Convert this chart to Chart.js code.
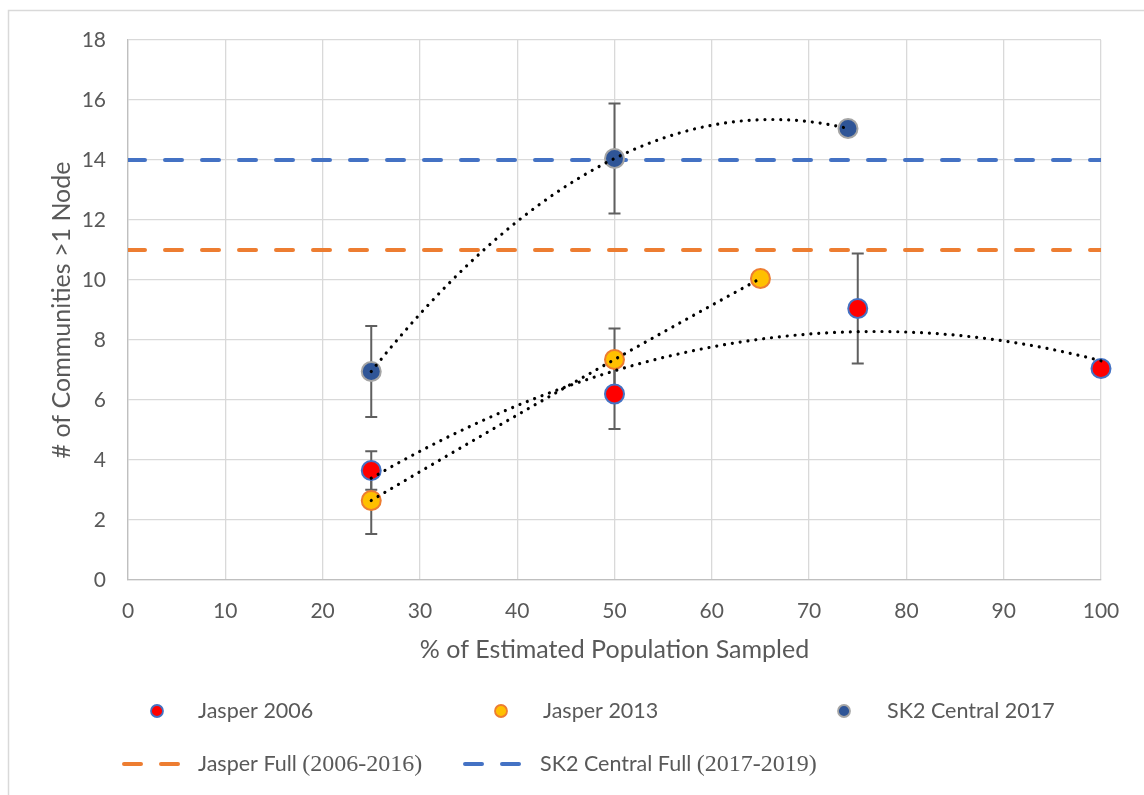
<!DOCTYPE html>
<html>
<head>
<meta charset="utf-8">
<script src="https://cdn.jsdelivr.net/npm/chart.js@4.4.1/dist/chart.umd.min.js"></script>
<style>
  html, body { margin: 0; padding: 0; background: #fff; overflow: hidden; }
  #wrap { position: relative; width: 1144px; height: 795px; }
</style>
</head>
<body>
<div id="wrap"><canvas id="c" width="1144" height="795"></canvas></div>
<script>
// ---- data ----
const jasper2006X = [25, 50, 75, 100];
const jasper2006Y = [3.65, 6.2, 9.05, 7.05];
const jasper2006Err = [0.64, 1.17, 1.83, null];

const jasper2013X = [25, 50, 65];
const jasper2013Y = [2.65, 7.35, 10.05];
const jasper2013Err = [1.12, 1.03, null];

const sk2X = [25, 50, 74];
const sk2Y = [6.95, 14.05, 15.05];
const sk2Err = [1.52, 1.83, null];

const jasperFullLevel = 11;
const sk2FullLevel = 14;

const xAxisRange = [0, 100];
const yAxisRange = [0, 18];
const xTickStep = 10;
const yTickStep = 2;

const seriesLabels = ['Jasper 2006', 'Jasper 2013', 'SK2 Central 2017',
                      'Jasper Full (2006-2016)', 'SK2 Central Full (2017-2019)'];

const TEXT = '#595959';
const SANS = 'Lato, "Noto Sans", sans-serif';
const SERIF = '"Liberation Serif", "DejaVu Serif", serif';

function pts(xs, ys) { return xs.map((x, i) => ({ x: x, y: ys[i] })); }

// least-squares quadratic fit (y = a + b x + c x^2)
function quadFit(xs, ys) {
  let s = [0, 0, 0, 0, 0], t = [0, 0, 0];
  for (let i = 0; i < xs.length; i++) {
    let p = 1;
    for (let k = 0; k < 5; k++) { s[k] += p; if (k < 3) t[k] += p * ys[i]; p *= xs[i]; }
  }
  const M = [[s[0], s[1], s[2], t[0]], [s[1], s[2], s[3], t[1]], [s[2], s[3], s[4], t[2]]];
  for (let i = 0; i < 3; i++) {
    let piv = i;
    for (let r = i + 1; r < 3; r++) if (Math.abs(M[r][i]) > Math.abs(M[piv][i])) piv = r;
    [M[i], M[piv]] = [M[piv], M[i]];
    for (let r = 0; r < 3; r++) {
      if (r === i) continue;
      const f = M[r][i] / M[i][i];
      for (let c = i; c < 4; c++) M[r][c] -= f * M[i][c];
    }
  }
  return [M[0][3] / M[0][0], M[1][3] / M[1][1], M[2][3] / M[2][2]];
}

const scatterSeries = [
  { xs: jasper2006X, ys: jasper2006Y, err: jasper2006Err },
  { xs: jasper2013X, ys: jasper2013Y, err: jasper2013Err },
  { xs: sk2X, ys: sk2Y, err: sk2Err }
];

// frame around the chart
const framePlugin = {
  id: 'frame',
  beforeDraw(chart) {
    const ctx = chart.ctx;
    ctx.save();
    ctx.strokeStyle = '#d9d9d9';
    ctx.lineWidth = 1.5;
    ctx.beginPath();
    ctx.moveTo(8.5, 800);
    ctx.lineTo(8.5, 10.5);
    ctx.lineTo(1150, 10.5);
    ctx.stroke();
    ctx.restore();
  }
};

// vertical error bars, drawn beneath the markers
const errorBarPlugin = {
  id: 'errorBars',
  beforeDatasetsDraw(chart) {
    const ctx = chart.ctx, xs = chart.scales.x, ys = chart.scales.y;
    ctx.save();
    ctx.strokeStyle = '#5f5f5f';
    ctx.lineWidth = 2;
    scatterSeries.forEach(s => {
      s.xs.forEach((x, i) => {
        const e = s.err[i];
        if (e == null) return;
        const px = xs.getPixelForValue(x);
        const top = ys.getPixelForValue(s.ys[i] + e);
        const bot = ys.getPixelForValue(s.ys[i] - e);
        ctx.beginPath();
        ctx.moveTo(px, top); ctx.lineTo(px, bot);
        ctx.moveTo(px - 6, top); ctx.lineTo(px + 6, top);
        ctx.moveTo(px - 6, bot); ctx.lineTo(px + 6, bot);
        ctx.stroke();
      });
    });
    ctx.restore();
  }
};

// dotted polynomial (order 2) trendlines over the markers
const trendPlugin = {
  id: 'trend',
  afterDatasetsDraw(chart) {
    const ctx = chart.ctx, xs = chart.scales.x, ys = chart.scales.y;
    ctx.save();
    ctx.strokeStyle = '#000';
    ctx.lineWidth = 3.2;
    ctx.lineCap = 'round';
    ctx.setLineDash([0.01, 7.9]);
    scatterSeries.forEach(s => {
      const [a, b, c] = quadFit(s.xs, s.ys);
      const x0 = Math.min(...s.xs), x1 = Math.max(...s.xs);
      ctx.beginPath();
      const n = 200;
      for (let k = 0; k <= n; k++) {
        const x = x0 + (x1 - x0) * k / n;
        const y = a + b * x + c * x * x;
        const px = xs.getPixelForValue(x), py = ys.getPixelForValue(y);
        if (k === 0) ctx.moveTo(px, py); else ctx.lineTo(px, py);
      }
      ctx.stroke();
    });
    ctx.restore();
  }
};

// legend in two rows; text after " (" is set in a serif face
const legendLayout = [
  { y: 711, items: [{ ds: 0, at: 157, text: 198 }, { ds: 1, at: 501, text: 543 }, { ds: 2, at: 844, text: 887 }] },
  { y: 764, items: [{ ds: 3, at: [122, 180], text: 198 }, { ds: 4, at: [463, 522], text: 540 }] }
];
const legendPlugin = {
  id: 'customLegend',
  afterDraw(chart) {
    const ctx = chart.ctx;
    ctx.save();
    legendLayout.forEach(row => {
      row.items.forEach(it => {
        const ds = chart.data.datasets[it.ds];
        if (Array.isArray(it.at)) {
          ctx.save();
          ctx.strokeStyle = ds.borderColor;
          ctx.lineWidth = ds.borderWidth;
          ctx.lineCap = 'round';
          ctx.setLineDash(ds.borderDash);
          ctx.beginPath();
          ctx.moveTo(it.at[0] + 2, row.y);
          ctx.lineTo(it.at[1] - 2, row.y);
          ctx.stroke();
          ctx.restore();
        } else {
          ctx.beginPath();
          ctx.arc(it.at, row.y, 6, 0, Math.PI * 2);
          ctx.fillStyle = ds.pointBackgroundColor;
          ctx.fill();
          ctx.lineWidth = 1.8;
          ctx.strokeStyle = ds.pointBorderColor;
          ctx.stroke();
        }
        ctx.fillStyle = TEXT;
        ctx.textBaseline = 'middle';
        ctx.textAlign = 'left';
        const label = ds.label;
        const cut = label.indexOf(' (');
        const main = cut >= 0 ? label.slice(0, cut) : label;
        ctx.font = '21.5px ' + SANS;
        ctx.fillText(main, it.text, row.y);
        if (cut >= 0) {
          const w = ctx.measureText(main + ' ').width;
          ctx.font = '24px ' + SERIF;
          ctx.fillText(label.slice(cut + 1), it.text + w, row.y + 1);
        }
      });
    });
    ctx.restore();
  }
};

const markerBase = { showLine: false, pointRadius: 9.5, pointHoverRadius: 9.5, pointBorderWidth: 2, clip: false, order: 1 };

new Chart(document.getElementById('c'), {
  type: 'scatter',
  data: {
    datasets: [
      Object.assign({ label: seriesLabels[0], data: pts(jasper2006X, jasper2006Y),
        pointBackgroundColor: '#ff0000', pointBorderColor: '#4472c4' }, markerBase),
      Object.assign({ label: seriesLabels[1], data: pts(jasper2013X, jasper2013Y),
        pointBackgroundColor: '#ffc000', pointBorderColor: '#ed7d31' }, markerBase),
      Object.assign({ label: seriesLabels[2], data: pts(sk2X, sk2Y),
        pointBackgroundColor: '#2f5597', pointBorderColor: '#a5a5a5' }, markerBase),
      { type: 'line', label: seriesLabels[3],
        data: [{ x: xAxisRange[0], y: jasperFullLevel }, { x: xAxisRange[1], y: jasperFullLevel }],
        borderColor: '#ed7d31', borderWidth: 4, borderDash: [17, 20], borderCapStyle: 'round',
        pointRadius: 0, order: 5 },
      { type: 'line', label: seriesLabels[4],
        data: [{ x: xAxisRange[0], y: sk2FullLevel }, { x: xAxisRange[1], y: sk2FullLevel }],
        borderColor: '#4472c4', borderWidth: 4, borderDash: [17, 20], borderCapStyle: 'round',
        pointRadius: 0, order: 5 }
    ]
  },
  options: {
    responsive: false,
    animation: false,
    devicePixelRatio: 1,
    layout: { padding: { left: 0, top: 40, right: 43, bottom: 125 } },
    plugins: { legend: { display: false }, tooltip: { enabled: false } },
    scales: {
      x: {
        type: 'linear', min: xAxisRange[0], max: xAxisRange[1],
        ticks: { stepSize: xTickStep, color: TEXT, font: { family: SANS, size: 21 }, padding: 19 },
        grid: { color: '#d9d9d9', lineWidth: 1.3, drawTicks: false },
        border: { color: '#bfbfbf', width: 1.3 },
        title: { display: true, text: '% of Estimated Population Sampled', color: TEXT,
                 font: { family: SANS, size: 25 }, padding: { top: 0, bottom: 5 } },
        afterFit(s) { s.height = 90; }
      },
      y: {
        type: 'linear', min: yAxisRange[0], max: yAxisRange[1],
        ticks: { stepSize: yTickStep, color: TEXT, font: { family: SANS, size: 21 }, padding: 22 },
        grid: { color: '#d9d9d9', lineWidth: 1.3, drawTicks: false },
        border: { color: '#bfbfbf', width: 1.3 },
        title: { display: true, text: '# of Communities >1 Node', color: TEXT,
                 font: { family: SANS, size: 25 }, padding: { top: 47, bottom: 0 } },
        afterFit(s) { s.width = 128; }
      }
    }
  },
  plugins: [framePlugin, errorBarPlugin, trendPlugin, legendPlugin]
});
</script>
</body>
</html>
